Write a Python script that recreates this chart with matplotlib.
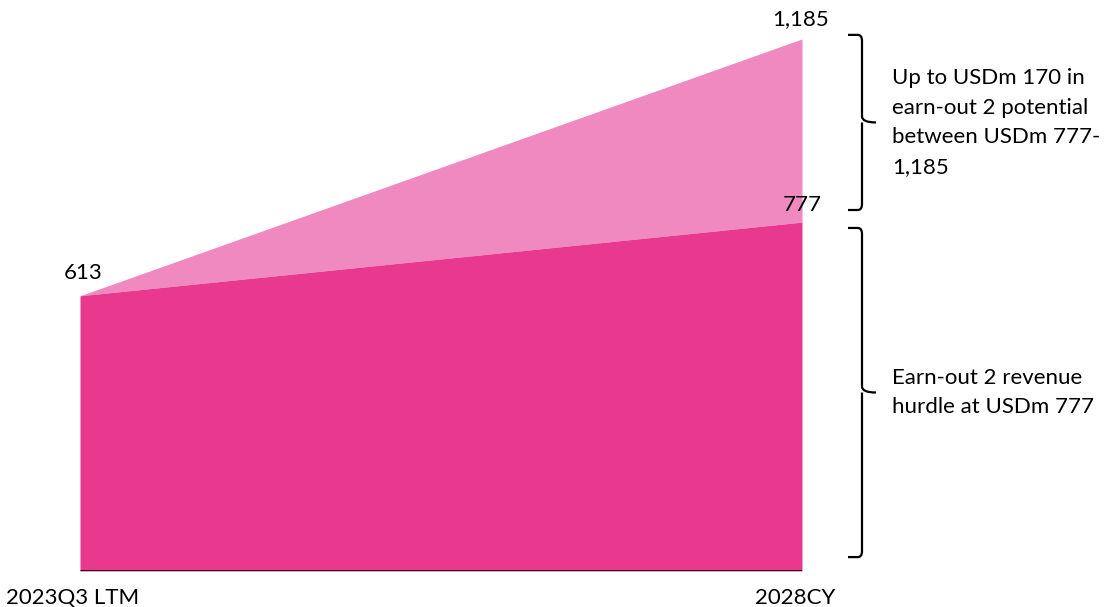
import numpy as np
import matplotlib.pyplot as plt
from matplotlib.path import Path
from matplotlib.patches import PathPatch

plt.rcParams['font.family'] = ['Lato', 'DejaVu Sans']

# Data
periods = ['2023Q3 LTM', '2028CY']
hurdle = [613, 777]          # earn-out 2 revenue hurdle
upside = [613, 1185]         # upper end of earn-out 2 range
note_top = 'Up to USDm 170 in\nearn-out 2 potential\nbetween USDm 777-\n1,185'
note_bottom = 'Earn-out 2 revenue\nhurdle at USDm 777'

dark_pink = '#E8398F'
light_pink = '#F089C0'
fs = 16

W, H = 1120, 607
fig = plt.figure(figsize=(W / 100, H / 100), dpi=100)
# axes placed in pixel terms so the area spans 80..802 px, baseline at 571 px
ymax = 1250
px_per_unit = 0.449
ax = fig.add_axes([80 / W, (H - 571) / H, 722 / W, ymax * px_per_unit / H])

x = np.arange(len(periods))
ax.fill_between(x, hurdle, upside, color=light_pink, linewidth=0)
ax.fill_between(x, 0, hurdle, color=dark_pink, linewidth=0)
ax.plot([x[0], x[-1]], [0, 0], color='black', linewidth=2, solid_capstyle='butt')

ax.set_xlim(x[0], x[-1])
ax.set_ylim(0, ymax)
ax.axis('off')

# value labels
ax.annotate(f'{hurdle[0]:,}', (x[0], hurdle[0]), xytext=(2, 9), textcoords='offset points',
            ha='center', va='bottom', fontsize=fs)
ax.annotate(f'{hurdle[1]:,}', (x[1], hurdle[1]), xytext=(0, 5), textcoords='offset points',
            ha='center', va='bottom', fontsize=fs)
ax.annotate(f'{upside[1]:,}', (x[1], upside[1]), xytext=(-1, 7), textcoords='offset points',
            ha='center', va='bottom', fontsize=fs)

# category labels
for xi, lab in zip(x, periods):
    ax.annotate(lab, (xi, 0), xytext=(-5, -12), textcoords='offset points',
                ha='center', va='top', fontsize=fs, annotation_clip=False)


def px_to_x(px):
    return (px - 80) / 722 * (x[-1] - x[0]) + x[0]


def brace(y0, y1):
    # curly brace opening left, between data values y0 (bottom) and y1 (top)
    xl, xv, xt = px_to_x(848), px_to_x(862), px_to_x(876)
    r = 6 / px_per_unit
    ym = (y0 + y1) / 2
    dx = xv - xl
    verts = [
        (xl, y1), (xv - dx * 0.3, y1),
        (xv, y1), (xv, y1 - r),
        (xv, ym + r),
        (xv, ym), (xt, ym),
        (xv, ym), (xv, ym - r),
        (xv, y0 + r),
        (xv, y0), (xv - dx * 0.3, y0),
        (xl, y0),
    ]
    codes = [Path.MOVETO, Path.LINETO,
             Path.CURVE3, Path.CURVE3,
             Path.LINETO,
             Path.CURVE3, Path.CURVE3,
             Path.MOVETO, Path.LINETO,
             Path.LINETO,
             Path.CURVE3, Path.CURVE3,
             Path.LINETO]
    patch = PathPatch(Path(verts, codes), facecolor='none', edgecolor='black',
                      linewidth=1.6, clip_on=False, capstyle='butt', joinstyle='round')
    ax.add_patch(patch)


brace(hurdle[1] + 27, upside[1] + 9)
brace(31, hurdle[1] - 13)

ax.text(px_to_x(892), (hurdle[1] + 27 + upside[1] + 9) / 2, note_top, ha='left', va='center',
        fontsize=fs, linespacing=1.6, clip_on=False)
ax.text(px_to_x(892), (31 + hurdle[1] - 13) / 2, note_bottom, ha='left', va='center',
        fontsize=fs, linespacing=1.6, clip_on=False)

fig.savefig('out.png', dpi=100)
